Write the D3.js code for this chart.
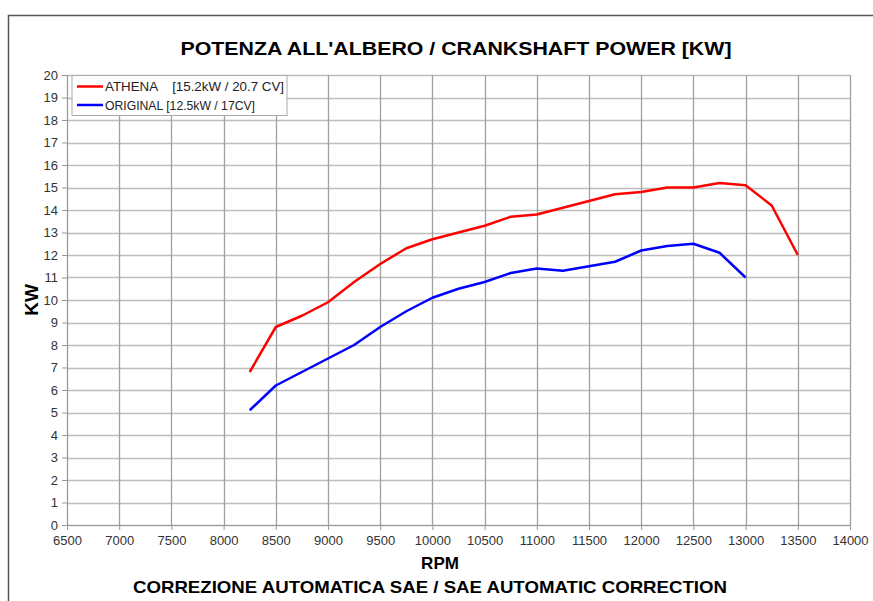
<!DOCTYPE html>
<html>
<head>
<meta charset="utf-8">
<script src="https://cdn.jsdelivr.net/npm/d3@7"></script>
<style>
  body { margin: 0; background: #fff; }
  text { font-family: "Liberation Sans", Arial, sans-serif; }
</style>
</head>
<body>
<div id="chart"></div>
<script>
// data
const rpm = [8250, 8500, 8750, 9000, 9250, 9500, 9750, 10000, 10250, 10500, 10750,
             11000, 11250, 11500, 11750, 12000, 12250, 12500, 12750, 13000, 13250, 13500]
const athena = [6.8, 8.8, 9.3, 9.9, 10.8, 11.6, 12.3, 12.7, 13.0, 13.3, 13.7,
                13.8, 14.1, 14.4, 14.7, 14.8, 15.0, 15.0, 15.2, 15.1, 14.2, 12.0]
const original = [5.1, 6.2, 6.8, 7.4, 8.0, 8.8, 9.5, 10.1, 10.5, 10.8, 11.2,
                  11.4, 11.3, 11.5, 11.7, 12.2, 12.4, 12.5, 12.1, 11.0]
const xTicks = d3.range(6500, 14001, 500)
const yTicks = d3.range(0, 21, 1)
const seriesNames = ['ATHENA    [15.2kW / 20.7 CV]', 'ORIGINAL [12.5kW / 17CV]']
const seriesColors = ['#ff0000', '#0000ff']

const W = 873, H = 601
const margin = {top: 75, right: 23, bottom: 76, left: 67}
const w = W - margin.left - margin.right
const h = H - margin.top - margin.bottom

const svg = d3.select('#chart').append('svg')
    .attr('width', W)
    .attr('height', H)

// outer frame (only top and left edges visible)
svg.append('path')
    .attr('d', `M8.5,${H} V15.5 H${W}`)
    .attr('fill', 'none')
    .attr('stroke', '#555')
    .attr('stroke-width', 1.5)

const g = svg.append('g')
    .attr('transform', `translate(${margin.left},${margin.top})`)

const x = d3.scaleLinear().domain([6500, 14000]).range([0, w])
const y = d3.scaleLinear().domain([0, 20]).range([h, 0])

// grid
g.selectAll('.hgrid')
    .data(yTicks)
    .join('line')
        .attr('x1', 0).attr('x2', w)
        .attr('y1', d => Math.round(y(d)) + 0.5)
        .attr('y2', d => Math.round(y(d)) + 0.5)
        .attr('stroke', '#bdbdbd')
        .attr('stroke-width', 1.3)
g.selectAll('.vgrid')
    .data(xTicks)
    .join('line')
        .attr('y1', 0).attr('y2', h)
        .attr('x1', d => Math.round(x(d)) + 0.5)
        .attr('x2', d => Math.round(x(d)) + 0.5)
        .attr('stroke', '#a0a0a0')
        .attr('stroke-width', 1.3)

// axes
const xAxis = g.append('g')
    .attr('transform', `translate(0,${h})`)
    .call(d3.axisBottom(x).tickValues(xTicks).tickFormat(d3.format('d')).tickSize(5).tickSizeOuter(0))
const yAxis = g.append('g')
    .call(d3.axisLeft(y).tickValues(yTicks).tickSize(5).tickSizeOuter(0))
for (const ax of [xAxis, yAxis]) {
    ax.select('.domain').attr('stroke', '#999')
    ax.selectAll('.tick line').attr('stroke', '#999')
    ax.selectAll('.tick text')
        .attr('fill', '#333')
        .style('font-size', '13px')
}
xAxis.selectAll('.tick text').attr('dy', '0.9em')
yAxis.selectAll('.tick text').attr('x', -9)

// lines
const line = d3.line()
    .x(d => x(d[0]))
    .y(d => y(d[1]))
const series = [athena, original]
series.forEach((vals, i) => {
    g.append('path')
        .datum(vals.map((v, j) => [rpm[j], v]))
        .attr('fill', 'none')
        .attr('stroke', seriesColors[i])
        .attr('stroke-width', 2.5)
        .attr('stroke-linejoin', 'round')
        .attr('d', line)
})

// legend
const leg = g.append('g').attr('transform', 'translate(5,0.5)')
leg.append('rect')
    .attr('width', 215).attr('height', 40)
    .attr('fill', '#fff')
    .attr('stroke', '#aaa')
seriesNames.forEach((name, i) => {
    const yy = 11 + i * 18.5
    leg.append('line')
        .attr('x1', 5).attr('x2', 31)
        .attr('y1', yy).attr('y2', yy)
        .attr('stroke', seriesColors[i])
        .attr('stroke-width', 2.5)
    leg.append('text')
        .attr('x', 33).attr('y', yy)
        .attr('dy', '0.35em')
        .attr('fill', '#222')
        .style('font-size', '13px')
        .style('white-space', 'pre')
        .attr('textLength', i === 0 ? 179 : 150)
        .attr('lengthAdjust', 'spacingAndGlyphs')
        .text(name)
})

// titles
svg.append('text')
    .attr('x', 456).attr('y', 55)
    .attr('text-anchor', 'middle')
    .style('font-size', '19px')
    .style('font-weight', 'bold')
    .attr('textLength', 551)
    .attr('lengthAdjust', 'spacingAndGlyphs')
    .text("POTENZA ALL'ALBERO / CRANKSHAFT POWER [KW]")

svg.append('text')
    .attr('transform', 'translate(38,300) rotate(-90)')
    .attr('text-anchor', 'middle')
    .style('font-size', '19px')
    .style('font-weight', 'bold')
    .text('KW')

svg.append('text')
    .attr('x', 440).attr('y', 569)
    .attr('text-anchor', 'middle')
    .style('font-size', '17px')
    .style('font-weight', 'bold')
    .text('RPM')

svg.append('text')
    .attr('x', 430).attr('y', 593)
    .attr('text-anchor', 'middle')
    .style('font-size', '17px')
    .style('font-weight', 'bold')
    .attr('textLength', 594)
    .attr('lengthAdjust', 'spacingAndGlyphs')
    .text('CORREZIONE AUTOMATICA SAE / SAE AUTOMATIC CORRECTION')
</script>
</body>
</html>
